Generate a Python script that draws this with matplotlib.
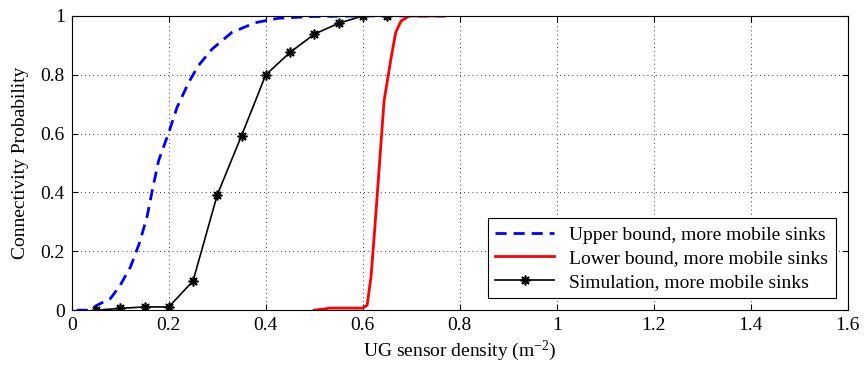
import matplotlib
matplotlib.use('Agg')
import matplotlib.pyplot as plt
from matplotlib.ticker import FormatStrFormatter, MultipleLocator

plt.rcParams['font.family'] = ['Liberation Serif', 'DejaVu Serif']
plt.rcParams['mathtext.fontset'] = 'custom'
plt.rcParams['mathtext.rm'] = 'Liberation Serif'
plt.rcParams['mathtext.it'] = 'Liberation Serif:italic'
plt.rcParams['mathtext.default'] = 'regular'

# upper bound (blue dashed)
upper_x = [0.01, 0.04, 0.05, 0.08, 0.10, 0.121, 0.139, 0.155, 0.166, 0.179, 0.2,
           0.217, 0.241, 0.261, 0.289, 0.33, 0.378, 0.425, 0.494, 0.6, 0.77]
upper_y = [0.0, 0.0, 0.015, 0.04, 0.085, 0.147, 0.226, 0.316, 0.407, 0.508, 0.604,
           0.689, 0.774, 0.831, 0.887, 0.944, 0.977, 0.992, 0.998, 1.0, 1.0]

# lower bound (red solid)
lower_x = [0.50, 0.521, 0.531, 0.60, 0.609, 0.617, 0.624, 0.634, 0.644, 0.658,
           0.668, 0.679, 0.696, 0.77]
lower_y = [0.0, 0.004, 0.007, 0.007, 0.017, 0.113, 0.26, 0.486, 0.712, 0.853,
           0.944, 0.983, 1.0, 1.0]

# simulation (black with stars)
sim_x = [0.05, 0.10, 0.15, 0.20, 0.25, 0.30, 0.35, 0.40, 0.45, 0.50, 0.55, 0.60, 0.65]
sim_y = [0.0, 0.006, 0.011, 0.011, 0.099, 0.392, 0.593, 0.80, 0.876, 0.938, 0.975, 1.0, 1.0]

fig = plt.figure(figsize=(8.65, 3.71), dpi=100)
ax = fig.add_axes([0.083, 0.164, 0.897, 0.793])

ax.plot(upper_x, upper_y, color='blue', linestyle=(0, (4, 2.5)), linewidth=2,
        label='Upper bound, more mobile sinks')
ax.plot(lower_x, lower_y, color='red', linewidth=2,
        label='Lower bound, more mobile sinks')
ax.plot(sim_x, sim_y, color='black', linewidth=1.2, marker=(8, 2, 0),
        markersize=7, markeredgewidth=1.2,
        label='Simulation, more mobile sinks')

ax.set_xlim(0, 1.6)
ax.set_ylim(0, 1)
ax.xaxis.set_major_locator(MultipleLocator(0.2))
ax.yaxis.set_major_locator(MultipleLocator(0.2))
ax.xaxis.set_major_formatter(FormatStrFormatter('%g'))
ax.yaxis.set_major_formatter(FormatStrFormatter('%g'))
ax.tick_params(direction='in', labelsize=14, top=True, right=True, length=4,
               pad=5)
ax.grid(True, color='black', linestyle=(0, (1, 4)), linewidth=0.6)

ax.set_xlabel('UG sensor density (m$^{-2}$)', fontsize=14, labelpad=3)
ax.set_ylabel('Connectivity Probability', fontsize=14, labelpad=8)

leg = ax.legend(loc='lower right', fontsize=14, fancybox=False, framealpha=1,
                edgecolor='black', borderaxespad=0.6, handlelength=3.0,
                labelspacing=0.3, borderpad=0.4)
leg.get_frame().set_linewidth(0.8)

fig.savefig('out.png', dpi=100)
